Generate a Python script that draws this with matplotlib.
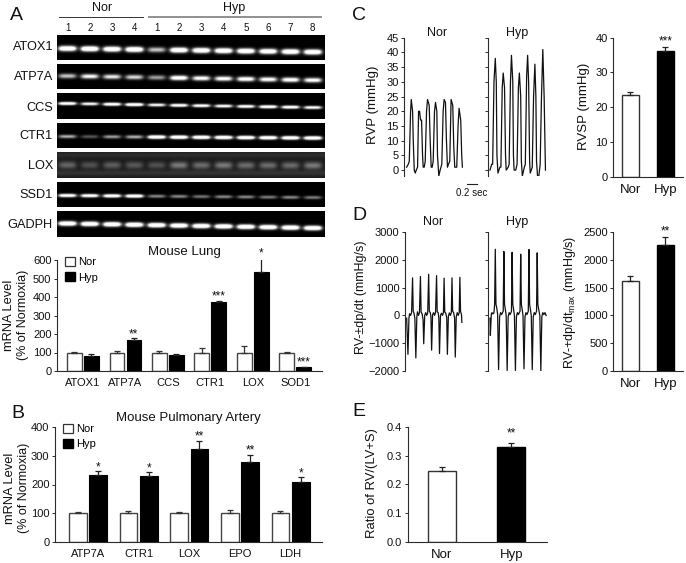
import numpy as np
import matplotlib
matplotlib.use("Agg")
import matplotlib.pyplot as plt
from matplotlib.lines import Line2D
from matplotlib.patches import Patch

plt.rcParams['font.family'] = ['Liberation Sans', 'DejaVu Sans']
plt.rcParams['mathtext.fontset'] = 'custom'
plt.rcParams['mathtext.rm'] = 'Liberation Sans'

W, H = 686, 563
DARK = '#2b2b2b'

# gel band brightness per lane
gel_names = ['ATOX1', 'ATP7A', 'CCS', 'CTR1', 'LOX', 'SSD1', 'GADPH']
lane_labels = ['1', '2', '3', '4', '1', '2', '3', '4', '5', '6', '7', '8']
atox1_bands = [.95, 1, .95, 1, .5, .95, .95, .95, .95, .9, .95, .95]
atp7a_bands = [.5, .65, .6, .55, .4, .8, .7, .7, .75, .7, .75, .7]
ccs_bands = [.9, .7, .9, 1, .7, .85, .8, .75, .8, .9, .85, .75]
ctr1_bands = [.45, .22, .4, .45, 1, 1, 1, 1, 1, 1, 1, 1]
lox_bands = [.3, .22, .27, .25, .22, .38, .33, .38, .33, .33, .32, .38]
ssd1_bands = [.85, .85, .9, .95, .35, .35, .3, .35, .35, .32, .35, .32]
gadph_bands = [1, 1, 1, 1, 1, 1, 1, 1, 1, 1, 1, 1]

# lung mRNA
lung_genes = ['ATOX1', 'ATP7A', 'CCS', 'CTR1', 'LOX', 'SOD1']
lung_nor = [100, 100, 100, 100, 100, 100]
lung_nor_err = [3, 10, 10, 25, 35, 3]
lung_hyp = [83, 168, 87, 375, 533, 22]
lung_hyp_err = [7, 8, 5, 5, 80, 2]
lung_stars = ['', '**', '', '***', '*', '***']

# pulmonary artery mRNA
pa_genes = ['ATP7A', 'CTR1', 'LOX', 'EPO', 'LDH']
pa_nor = [100, 100, 100, 100, 100]
pa_nor_err = [6, 8, 6, 10, 8]
pa_hyp = [232, 228, 325, 277, 207]
pa_hyp_err = [14, 15, 28, 27, 18]
pa_stars = ['*', '*', '**', '**', '*']

# RV pressure traces, time in ms
nor_rvp_t = [0, 30, 48, 72, 84, 108, 120, 138, 156, 174, 198, 216, 234, 252, 270, 288, 300, 318, 336, 360, 378,
             408, 426, 444, 462, 480, 504, 522, 546, 558, 582, 606, 636, 660, 678, 702, 720, 738, 756, 780, 804,
             834, 852, 870, 888, 906, 930, 948, 978, 996, 1008]
nor_rvp = [1, 2, 3, 20, 24, 20, 10, 0, -1, 0, 1, 20, 20, 17, 17, 5, 1, 1, 3, 20, 24,
           22, 10, 1, 1, 3, 20, 23, 20, 5, -2, 0, 2, 20, 24, 23, 10, 1, 2, 3, 24,
           22, 8, 1, 1, 1, 15, 21, 17, 5, 1]
hyp_rvp_t = [0, 30, 48, 72, 96, 114, 126, 144, 180, 198, 222, 240, 264, 282, 294, 330, 348, 372, 390, 414, 426,
             438, 468, 492, 516, 534, 558, 570, 588, 624, 642, 666, 684, 702, 720, 732, 768, 792, 816, 834, 846,
             864, 888, 912, 936, 960, 984, 1008]
hyp_rvp = [0, 2, 2, 30, 38, 30, 5, -1, 1, 1, 28, 33, 28, 5, 0, 1, 2, 30, 39, 30, 5,
           0, 0, 2, 28, 33, 25, 3, -2, 1, 2, 32, 39, 30, 3, -1, 1, 25, 36, 25, 3,
           -2, -2, 2, 25, 41, 25, 0]

# RV dp/dt traces, time in ms
nor_dp_t = [0, 24, 42, 54, 72, 90, 108, 120, 132, 150,
            168, 186, 198, 216, 234, 252, 264, 282, 300,
            312, 330, 348, 366, 384, 402, 414, 432, 444,
            456, 474, 492, 510, 528, 546, 558, 576, 588,
            600, 618, 636, 654, 672, 684, 696, 714, 732,
            744, 762, 780, 798, 816, 828, 840, 858, 876,
            888, 906, 924, 942, 960, 972, 984, 1002, 1008]
nor_dp = [-100, -1400, -100, 60, 0, 100, 1350, 150, 100, -100,
          -1530, -50, 130, 0, 100, 1400, 120, 60, -150,
          -1020, 0, 100, 0, 80, 1480, 150, 100, -50,
          -1250, 30, 100, 0, 100, 1430, 130, 100, -100,
          -1370, 0, 80, 0, 100, 1340, 120, 80, -80,
          -1400, -30, 90, 0, 100, 1350, 150, 100, -100,
          -1500, -50, 100, 0, 100, 1370, 150, 20, -250]
hyp_dp_t = [0, 6, 24, 36, 54, 72, 84, 96, 108, 120, 138,
            156, 174, 192, 210, 240, 252, 264, 276, 294,
            312, 330, 348, 366, 390, 402, 414, 426, 444,
            462, 480, 498, 516, 546, 558, 570, 582, 600,
            618, 636, 654, 672, 696, 708, 720, 732, 750,
            768, 786, 804, 822, 846, 858, 870, 882, 906,
            924, 942, 960, 978, 1000, 1020]
hyp_dp = [-100, -720, 50, 100, 50, 100, 400, 2380, 400, 300, 50,
          -1950, -50, 100, 30, 150, 2300, 400, 250, 0,
          -1980, -50, 100, 30, 150, 2270, 400, 250, 0,
          -1980, -50, 100, 30, 150, 2200, 400, 250, 0,
          -1920, -50, 100, 30, 150, 2370, 400, 250, 0,
          -1950, -50, 100, 30, 150, 2250, 400, 250, 0,
          -2000, -50, 100, 30, 100, 0]

# two-group bar panels
groups = ['Nor', 'Hyp']
rvsp = [23.6, 36.1]
rvsp_err = [0.7, 1.1]
dpmax = [1610, 2270]
dpmax_err = [95, 140]
ratio = [0.245, 0.33]
ratio_err = [0.015, 0.015]


def axes_px(left, top, right, bottom):
    ax = fig.add_axes([left / W, 1 - bottom / H, (right - left) / W, (bottom - top) / H])
    ax.patch.set_alpha(0)
    for side in ['top', 'right']:
        ax.spines[side].set_visible(False)
    for side in ['left', 'bottom']:
        ax.spines[side].set_linewidth(0.8)
        ax.spines[side].set_color(DARK)
    ax.tick_params(length=2.5, width=0.7, color=DARK, labelsize=8, pad=1.5, labelcolor='#111111')
    return ax


def draw_gel(top, bottom, bands, y_left, y_right, sigma, bg=0.0, smear=False):
    h = bottom - top
    xs = np.arange(268) + 0.5
    ys = np.arange(h * 2) / 2 + 0.25
    img = np.full((len(ys), len(xs)), bg)
    if smear:
        # faint streaks above and below the band
        img = img + (0.08 * np.exp(-((ys - 3) / 3) ** 2) + 0.1 * np.exp(-((ys - h + 5) / 3) ** 2))[:, None]
    for i, level in enumerate(bands):
        xc = 10.5 + i * 22.3
        yc = y_left + (y_right - y_left) * i / 11.0
        # soft flat-topped band
        shape = np.exp(-((xs - xc) / 9.0) ** 4)[None, :] * np.exp(-((ys - yc) / sigma) ** 2)[:, None]
        img = img + shape * level * (1.0 if smear else 1.6)
    ax = fig.add_axes([57 / W, 1 - bottom / H, 268 / W, h / H])
    ax.imshow(np.clip(img, 0, 1), cmap='gray', vmin=0, vmax=1, aspect='auto', interpolation='bilinear')
    ax.axis('off')


def grouped_bars(ax, nor, nor_err, hyp, hyp_err, stars, genes, off, bw, star_gap):
    x = np.arange(len(genes))
    ax.bar(x - off, nor, bw, yerr=[[0] * len(nor), nor_err], color='white', edgecolor='#444444', linewidth=1.0,
           error_kw=dict(ecolor='#333333', elinewidth=0.9, capsize=2.2, capthick=0.9))
    ax.bar(x + off, hyp, bw, yerr=[[0] * len(hyp), hyp_err], color='black', edgecolor='black', linewidth=0.8,
           error_kw=dict(ecolor='#222222', elinewidth=0.9, capsize=2.2, capthick=0.9))
    for i in range(len(genes)):
        if stars[i]:
            ax.text(x[i] + off, hyp[i] + hyp_err[i] + star_gap, stars[i], ha='center', va='center',
                    fontsize=8.5, color='#111111', clip_on=False)
    ax.set_xticks(x)
    ax.set_xticklabels(genes, fontsize=8)
    ax.tick_params(axis='x', length=0, pad=5)


def two_bars(ax, vals, errs, star, star_y):
    ax.bar([0, 1], vals, 0.5, yerr=[[0, 0], errs], color=['white', 'black'], edgecolor=['#333333', 'black'],
           linewidth=1.0, error_kw=dict(ecolor='#222222', elinewidth=0.9, capsize=2.5, capthick=0.9))
    ax.text(1, star_y, star, ha='center', va='center', fontsize=8.5, color='#111111', clip_on=False)
    ax.set_xlim(-0.49, 1.5)
    ax.set_xticks([0, 1])
    ax.set_xticklabels(groups, fontsize=9.5)
    ax.tick_params(axis='x', length=0, pad=5)


def bar_legend(ax):
    handles = [Patch(facecolor='white', edgecolor='#333333', linewidth=0.9),
               Patch(facecolor='black', edgecolor='black')]
    ax.legend(handles, groups, loc='upper left', frameon=False, fontsize=8, handlelength=0.9, handleheight=0.9,
              handletextpad=0.3, labelspacing=0.45, borderaxespad=0, borderpad=0, bbox_to_anchor=(0.03, 1.03))


fig = plt.figure(figsize=(W / 100, H / 100), dpi=100, facecolor='white')

# gels
draw_gel(35, 60, atox1_bands, 13.5, 17.0, 2.5)
draw_gel(64, 89, atp7a_bands, 12.5, 16.5, 2.2)
draw_gel(93, 119, ccs_bands, 10.5, 14.5, 1.5)
draw_gel(123, 148, ctr1_bands, 13.5, 15.0, 1.7)
draw_gel(152, 178, lox_bands, 13.0, 13.5, 3.5, bg=0.1, smear=True)
draw_gel(182, 207, ssd1_bands, 13.5, 15.5, 1.6)
draw_gel(211, 237, gadph_bands, 12.5, 17.0, 2.2)

# lung bars
ax = axes_px(57, 260, 322, 371)
grouped_bars(ax, lung_nor, lung_nor_err, lung_hyp, lung_hyp_err, lung_stars, lung_genes, 0.2, 0.345, 22)
ax.set_xlim(-0.61, 5.63)
ax.set_ylim(0, 600)
ax.set_yticks(np.arange(0, 601, 100))
bar_legend(ax)

# pulmonary artery bars
ax = axes_px(55, 427, 322, 542)
grouped_bars(ax, pa_nor, pa_nor_err, pa_hyp, pa_hyp_err, pa_stars, pa_genes, 0.2, 0.35, 14)
ax.set_xlim(-0.65, 4.62)
ax.set_ylim(0, 400)
ax.set_yticks(np.arange(0, 401, 100))
bar_legend(ax)

# pressure traces
ax = axes_px(404.3, 37.7, 474, 176)
ax.plot(nor_rvp_t, nor_rvp, color='#111111', lw=0.9)
ax.set_xlim(-42, 1218)
ax.set_ylim(-2, 45)
ax.set_yticks(np.arange(0, 46, 5))
ax.set_xticks([])
ax.spines['bottom'].set_visible(False)

ax = axes_px(487.7, 37.7, 557, 176)
ax.plot(hyp_rvp_t, hyp_rvp, color='#111111', lw=0.9)
ax.set_xlim(-42, 1218)
ax.set_ylim(-2, 45)
ax.set_yticks(np.arange(0, 46, 5))
ax.set_yticklabels([])
ax.set_xticks([])
ax.spines['bottom'].set_visible(False)

ax = axes_px(613.3, 37.7, 683, 176.7)
two_bars(ax, rvsp, rvsp_err, '***', 39)
ax.set_ylim(0, 40)
ax.set_yticks(np.arange(0, 41, 10))

# dp/dt traces
ax = axes_px(405, 232, 474, 371)
ax.plot(nor_dp_t, nor_dp, color='#111111', lw=0.9)
ax.set_xlim(-30, 1230)
ax.set_ylim(-2000, 3000)
ax.set_yticks(np.arange(-2000, 3001, 1000))
ax.set_xticks([])
ax.spines['bottom'].set_visible(False)

ax = axes_px(487.7, 232, 557, 371)
ax.plot(hyp_dp_t, hyp_dp, color='#111111', lw=0.9)
ax.set_xlim(-42, 1218)
ax.set_ylim(-2000, 3000)
ax.set_yticks(np.arange(-2000, 3001, 1000))
ax.set_yticklabels([])
ax.set_xticks([])
ax.spines['bottom'].set_visible(False)

ax = axes_px(613.3, 232, 683, 371)
two_bars(ax, dpmax, dpmax_err, '**', 2510)
ax.set_ylim(0, 2500)
ax.set_yticks(np.arange(0, 2501, 500))

# heart weight ratio
ax = axes_px(407.7, 426.7, 546.7, 542.3)
ax.bar([0, 1], ratio, 0.4, yerr=[[0, 0], ratio_err], color=['white', 'black'], edgecolor=['#333333', 'black'],
       linewidth=1.0, error_kw=dict(ecolor='#222222', elinewidth=0.9, capsize=2.5, capthick=0.9))
ax.text(1, 0.375, '**', ha='center', va='center', fontsize=8.5, color='#111111')
ax.set_xlim(-0.49, 1.51)
ax.set_ylim(0, 0.4)
ax.set_yticks([0, 0.1, 0.2, 0.3, 0.4])
ax.set_yticklabels(['0.0', '0.1', '0.2', '0.3', '0.4'])
ax.set_xticks([0, 1])
ax.set_xticklabels(groups, fontsize=9.5)
ax.tick_params(axis='x', length=0, pad=5)

# overlay in pixel coordinates for the labels
ov = fig.add_axes([0, 0, 1, 1])
ov.set_xlim(0, W)
ov.set_ylim(H, 0)
ov.axis('off')


def label(x, y, s, size=9, rot=0, ha='center'):
    ov.text(x, y, s, fontsize=size, rotation=rot, ha=ha, va='center', color='#111111')


label(10, 15, 'A', 14, ha='left')
label(11, 413, 'B', 14, ha='left')
label(352, 15, 'C', 14, ha='left')
label(352, 215, 'D', 14, ha='left')
label(352, 412, 'E', 14, ha='left')

label(102, 8, 'Nor')
label(234, 8, 'Hyp')
ov.add_line(Line2D([59, 143], [17, 17], color='#333333', lw=0.7))
ov.add_line(Line2D([149, 321], [17, 17], color='#888888', lw=1.3))
for i, s in enumerate(lane_labels):
    label(67.5 + i * 22.3, 28, s, 7)

gel_rows = [47, 77, 108, 136, 166, 195, 225]
for name, y in zip(gel_names, gel_rows):
    label(53, y, name, 9.2, ha='right')

label(184.5, 252, 'Mouse Lung', 9.5)
label(188, 418, 'Mouse Pulmonary Artery', 9.5)
label(9, 315, 'mRNA Level', 9.3, 90)
label(23, 315, '(% of Normoxia)', 9, 90)
label(10, 488, 'mRNA Level', 9.3, 90)
label(24, 488, '(% of Normoxia)', 9, 90)

label(437, 33, 'Nor', 9)
label(517, 33, 'Hyp', 9)
label(373, 105, 'RVP (mmHg)', 9.5, 90)
label(584, 106, 'RVSP (mmHg)', 9.5, 90)
ov.add_line(Line2D([466.7, 477.3], [184, 184], color='#222222', lw=0.8))
label(472, 193, '0.2 sec', 7)

label(433, 222, 'Nor', 9)
label(517, 222, 'Hyp', 9)
label(361, 297, 'RV-\u00b1dp/dt (mmHg/s)', 9, 90)
label(570, 302, 'RV-+dp/dt$_{\\mathrm{max}}$ (mmHg/s)', 9, 90)
label(372, 483, 'Ratio of RV/(LV+S)', 9.4, 90)

fig.savefig('out.png', dpi=100)
